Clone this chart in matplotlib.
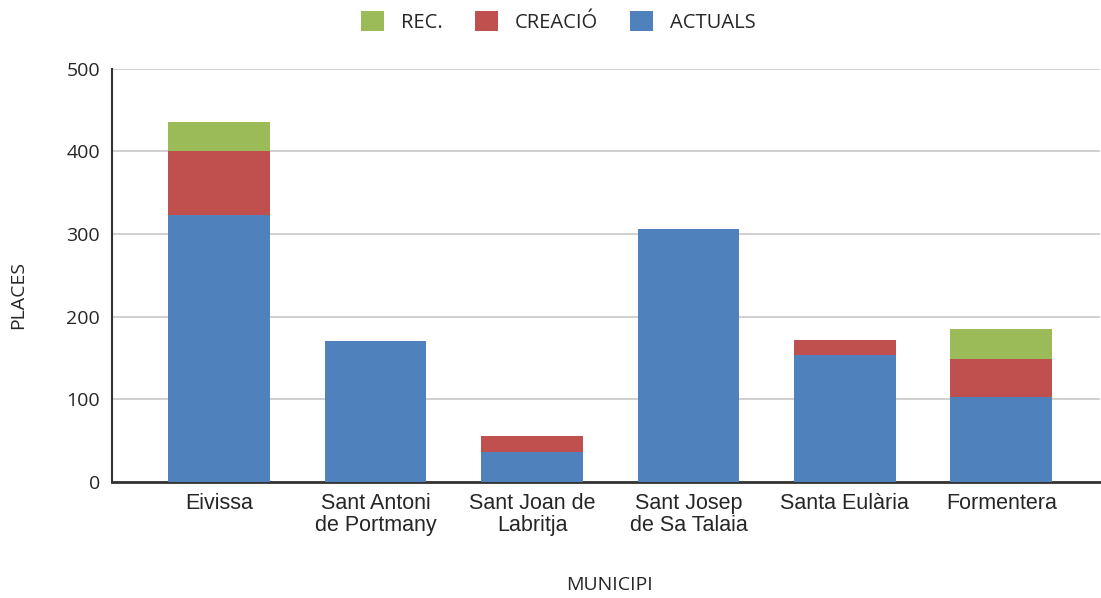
import matplotlib
matplotlib.use("Agg")
import matplotlib.pyplot as plt
from matplotlib.patches import Patch
import numpy as np

categories = ["Eivissa", "Sant Antoni\nde Portmany", "Sant Joan de\nLabritja",
              "Sant Josep\nde Sa Talaia", "Santa Eulària", "Formentera"]
actuals = [323, 170, 36, 306, 153, 102]
creacio = [77, 0, 19, 0, 19, 46]
rec = [35, 0, 0, 0, 0, 37]

c_rec = "#9BBB59"
c_cre = "#C0504D"
c_act = "#4F81BD"
txt = "#262626"

fig = plt.figure(figsize=(11.01, 5.98), dpi=100)
ax = fig.add_axes([0.1017, 0.1945, 0.8973, 0.6905])

x = np.arange(len(categories))
w = 0.65
act = np.array(actuals)
cre = np.array(creacio)
rc = np.array(rec)
ax.bar(x, act, w, color=c_act, zorder=3)
ax.bar(x, cre, w, bottom=act, color=c_cre, zorder=3)
ax.bar(x, rc, w, bottom=act + cre, color=c_rec, zorder=3)

ax.set_ylim(0, 500)
ax.set_xlim(-0.685, 5.63)
ax.set_yticks([0, 100, 200, 300, 400, 500])
ax.yaxis.grid(True, color="#C8C8C8", linewidth=1.2, zorder=0)
ax.set_axisbelow(True)
for s in ["top", "right"]:
    ax.spines[s].set_visible(False)
ax.spines["left"].set_color("#333333")
ax.spines["left"].set_linewidth(1.5)
ax.spines["bottom"].set_color("#333333")
ax.spines["bottom"].set_linewidth(2)
ax.tick_params(axis="y", length=0, pad=8.5, labelsize=14, labelcolor=txt)
ax.tick_params(axis="x", length=0, pad=8, labelsize=15.5, labelcolor=txt)
for t in ax.get_yticklabels():
    t.set_fontfamily("Open Sans")
ax.set_xticks(x)
ax.set_xticklabels(categories, fontfamily="Liberation Sans", linespacing=1.1)

ax.set_xlabel("MUNICIPI", fontfamily="Open Sans", fontsize=14, color=txt)
ax.xaxis.set_label_coords(0.504, -0.228)
ax.set_ylabel("PLACES", fontfamily="Open Sans", fontsize=14, color=txt)
ax.yaxis.set_label_coords(-0.086, 0.452)

handles = [Patch(facecolor=c_rec, label="REC."),
           Patch(facecolor=c_cre, label="CREACIÓ"),
           Patch(facecolor=c_act, label="ACTUALS")]
fig.legend(handles=handles, loc="upper center", bbox_to_anchor=(0.507, 1.012), ncol=3,
           frameon=False, prop={"family": "Open Sans", "size": 14.5},
           handlelength=1.14, handleheight=1.14, columnspacing=1.6, handletextpad=0.85,
           labelcolor=txt)

fig.savefig("out.png", dpi=100)
